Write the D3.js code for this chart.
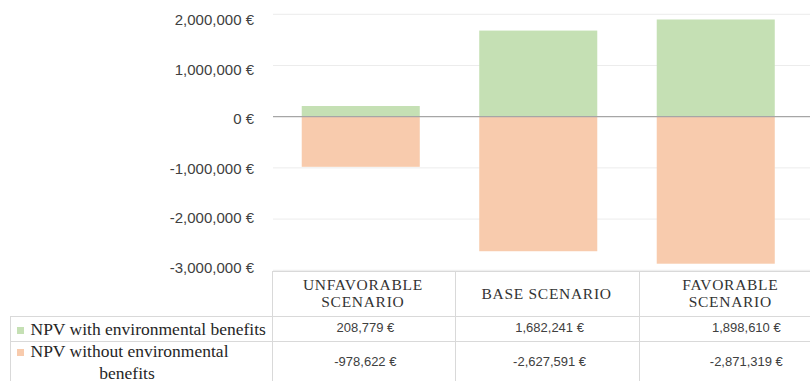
<!DOCTYPE html>
<html>
<head>
<meta charset="utf-8">
<script src="https://cdn.jsdelivr.net/npm/d3@7/dist/d3.min.js"></script>
<style>
  html, body { margin: 0; padding: 0; background: #fff; }
  svg { display: block; }
</style>
</head>
<body>
<svg id="chart" width="810" height="381"></svg>
<script>
// Scenario categories and the two NPV series (EUR)
const scenarios = ["UNFAVORABLE SCENARIO", "BASE SCENARIO", "FAVORABLE SCENARIO"];
const headerLines = [["UNFAVORABLE", "SCENARIO"], ["BASE SCENARIO"], ["FAVORABLE", "SCENARIO"]];
const npvWithEnv = [208779, 1682241, 1898610];
const npvWithoutEnv = [-978622, -2627591, -2871319];
const seriesNames = ["NPV with environmental benefits", "NPV without environmental benefits"];
const yTicks = [2000000, 1000000, 0, -1000000, -2000000, -3000000];

const green = "#c5e0b4";
const orange = "#f8cbad";
const gridColor = "#ececec";
const tableLine = "#d9d9d9";
const textColor = "#404040";

const svg = d3.select("#chart");

// Number format with a plain hyphen for negatives
const locale = d3.formatLocale({ decimal: ".", thousands: ",", grouping: [3], currency: ["", " €"], minus: "-" });
const fmt = v => locale.format(",")(v) + " €";

// Value scale for bars and gridlines
const y = d3.scaleLinear().domain([-3000000, 2000000]).range([270.3, 14.3]);
// Scale used to place the axis labels
const yLabel = d3.scaleLinear().domain([-3000000, 2000000]).range([267.5, 19.7]);

const x = d3.scaleBand().domain(scenarios).range([272, 804.5])
  .paddingInner(0.335).paddingOuter(0.1675);

// Table column scale
const col = d3.scaleBand().domain(scenarios).range([272, 823.2]);

// Gridlines
svg.append("g").selectAll("line").data(yTicks.filter(d => d !== 0)).join("line")
  .attr("x1", 273).attr("x2", 810)
  .attr("y1", d => y(d)).attr("y2", d => y(d))
  .attr("stroke", gridColor).attr("stroke-width", 1);

// Axis labels
const axis = svg.append("g").attr("transform", "translate(254,0)")
  .call(d3.axisLeft(yLabel).tickValues(yTicks).tickSize(0).tickPadding(0).tickFormat(fmt));
axis.select(".domain").remove();
axis.selectAll("text")
  .attr("font-family", "'Liberation Sans', Arial, sans-serif")
  .attr("font-size", "15px")
  .attr("fill", textColor);

// Bars
const bars = svg.append("g");
bars.selectAll("rect.with").data(scenarios).join("rect")
  .attr("class", "with")
  .attr("x", d => x(d)).attr("width", x.bandwidth())
  .attr("y", (d, i) => y(Math.max(0, npvWithEnv[i])))
  .attr("height", (d, i) => Math.abs(y(npvWithEnv[i]) - y(0)))
  .attr("fill", green);
bars.selectAll("rect.without").data(scenarios).join("rect")
  .attr("class", "without")
  .attr("x", d => x(d)).attr("width", x.bandwidth())
  .attr("y", (d, i) => y(Math.max(0, npvWithoutEnv[i])))
  .attr("height", (d, i) => Math.abs(y(npvWithoutEnv[i]) - y(0)))
  .attr("fill", orange);

// Zero line
svg.append("line")
  .attr("x1", 273).attr("x2", 810)
  .attr("y1", y(0)).attr("y2", y(0))
  .attr("stroke", "#a6a6a6").attr("stroke-width", 1.2);

// Data table
const tableTop = 271, headBottom = 316, row1Bottom = 341, tableBottom = 381;
const legendLeft = 10;
const t = svg.append("g").attr("stroke", tableLine).attr("stroke-width", 1).attr("shape-rendering", "crispEdges");
t.append("line").attr("x1", col.range()[0]).attr("x2", 810).attr("y1", tableTop).attr("y2", tableTop);
t.append("line").attr("x1", legendLeft).attr("x2", 810).attr("y1", headBottom).attr("y2", headBottom);
t.append("line").attr("x1", legendLeft).attr("x2", 810).attr("y1", row1Bottom).attr("y2", row1Bottom);
t.append("line").attr("x1", legendLeft).attr("x2", legendLeft).attr("y1", headBottom).attr("y2", tableBottom);
t.selectAll("line.col").data(scenarios).join("line").attr("class", "col")
  .attr("x1", d => col(d)).attr("x2", d => col(d))
  .attr("y1", tableTop).attr("y2", tableBottom);

// Column headers
const serif = "'Liberation Serif', 'Times New Roman', serif";
const heads = svg.append("g");
scenarios.forEach((s, i) => {
  const lines = headerLines[i];
  const cx = col(s) + col.bandwidth() / 2 - 1;
  const baseY = lines.length === 1 ? 298.5 : 289.5;
  lines.forEach((ln, j) => {
    heads.append("text").attr("x", cx).attr("y", baseY + j * 17)
      .attr("text-anchor", "middle")
      .attr("font-family", serif).attr("font-size", "15.5px")
      .attr("letter-spacing", "0.7px")
      .attr("fill", "#333").text(ln);
  });
});

// Value cells
const shift = [1.5, 2, 15];
const vals = svg.append("g")
  .attr("font-family", "'Liberation Sans', Arial, sans-serif")
  .attr("font-size", "13px").attr("fill", textColor).attr("text-anchor", "middle");
vals.selectAll("text.r1").data(scenarios).join("text").attr("class", "r1")
  .attr("x", (d, i) => col(d) + col.bandwidth() / 2 + shift[i])
  .attr("y", 331.5).text((d, i) => fmt(npvWithEnv[i]));
vals.selectAll("text.r2").data(scenarios).join("text").attr("class", "r2")
  .attr("x", (d, i) => col(d) + col.bandwidth() / 2 + shift[i])
  .attr("y", 366).text((d, i) => fmt(npvWithoutEnv[i]));

// Legend keys in the table
const leg = svg.append("g").attr("font-family", serif).attr("font-size", "17.5px").attr("fill", "#262626");
leg.append("rect").attr("x", 17).attr("y", 327).attr("width", 7).attr("height", 7).attr("fill", green);
leg.append("text").attr("x", 30.5).attr("y", 334.5).text(seriesNames[0]);
leg.append("rect").attr("x", 17).attr("y", 349).attr("width", 7).attr("height", 7).attr("fill", orange);
const words = seriesNames[1].split(" ");
leg.append("text").attr("x", 30.5).attr("y", 356.5).text(words.slice(0, 3).join(" "));
leg.append("text").attr("x", 127).attr("y", 378.5).attr("text-anchor", "middle").text(words.slice(3).join(" "));
</script>
</body>
</html>
